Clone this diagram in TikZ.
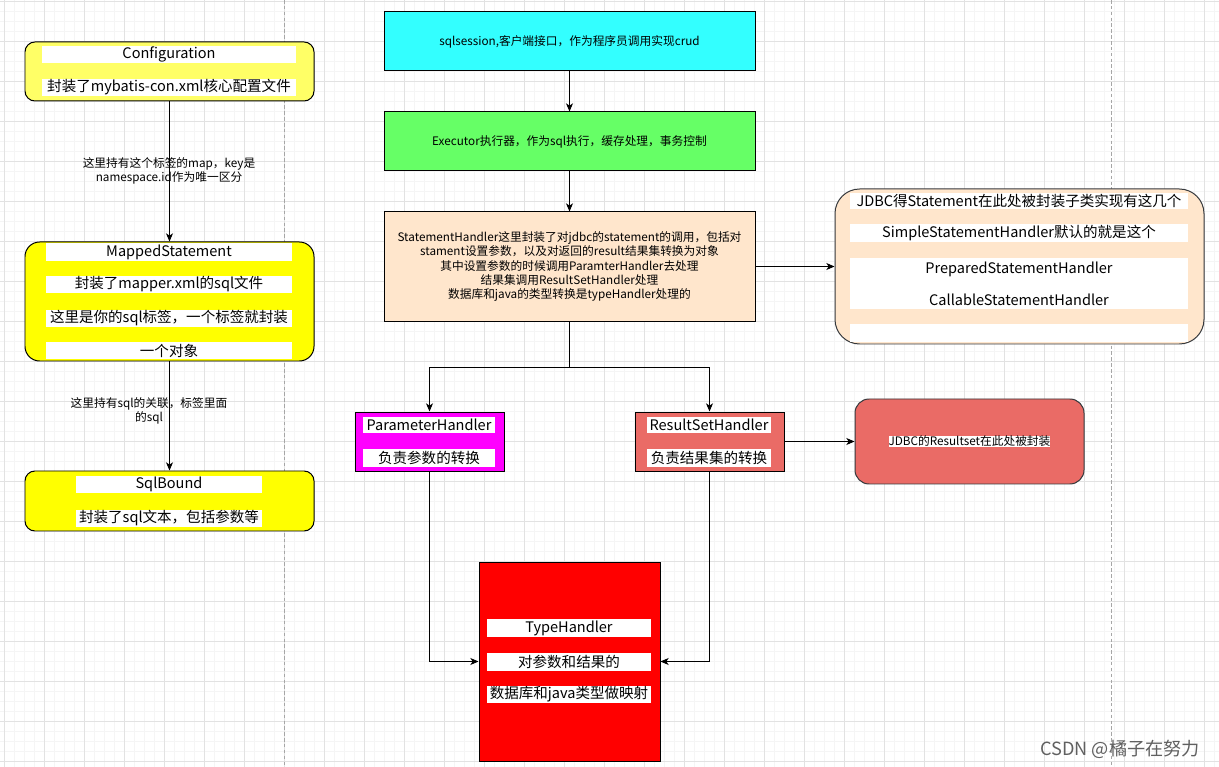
\documentclass[tikz,border=0pt]{standalone}
\usepackage{fontspec}
\setmainfont{Noto Sans CJK SC}
\usepackage{xcolor}
\usetikzlibrary{positioning,fit,arrows.meta}

\definecolor{cfgyellow}{HTML}{FFFF66}
\definecolor{msyellow}{HTML}{FFFF00}
\definecolor{sesscyan}{HTML}{33FFFF}
\definecolor{execgreen}{HTML}{66FF66}
\definecolor{stmtpeach}{HTML}{FFE6CC}
\definecolor{parmagenta}{HTML}{FF00FF}
\definecolor{rsred}{HTML}{EA6B66}
\definecolor{typered}{HTML}{FF0000}
\definecolor{gridmajor}{HTML}{E2E2E2}
\definecolor{gridminor}{HTML}{F5F5F5}
\definecolor{darkline}{HTML}{36393D}

\newcommand{\boxfont}{\fontsize{12.4}{14}\selectfont}
\newcommand{\notefont}{\fontsize{10}{12}\selectfont}

\begin{document}
\begin{tikzpicture}[x=0.03cm,y=-0.03cm,
  box/.style={draw=black,line width=0.85pt,inner sep=0pt},
  band/.style={fill=white,inner sep=0pt},
  every label/.style={font=\boxfont,inner sep=0pt,align=center},
  note/.style={inner sep=0pt,font=\notefont,align=center},
  arr/.style={line width=0.85pt,-{Stealth[length=7pt,width=6pt,inset=2pt]}}]
\useasboundingbox (0,0) rectangle (1219,767);
\fill[white] (0,0) rectangle (1219,767);
% grid of the canvas
\foreach \gx in {14.5,24.5,...,1214.5} \draw[gridminor,line width=0.6pt] (\gx,0) -- (\gx,767);
\foreach \gy in {11.5,21.5,...,761.5} \draw[gridminor,line width=0.6pt] (0,\gy) -- (1219,\gy);
\foreach \gx in {4.5,44.5,...,1204.5} \draw[gridmajor,line width=0.6pt] (\gx,0) -- (\gx,767);
\foreach \gy in {1.5,41.5,...,761.5} \draw[gridmajor,line width=0.6pt] (0,\gy) -- (1219,\gy);
\draw[gray!70,line width=0.6pt,dash pattern=on 3pt off 2pt] (284.5,0) -- (284.5,767);
\draw[gray!70,line width=0.6pt,dash pattern=on 3pt off 2pt] (1111.5,0) -- (1111.5,767);

% left column
\node[box,fill=cfgyellow,rounded corners=8.5pt,fit={(25,42) (314,101)}] (cfg) {};
\node[band,fit={(42,46) (296,63)},label=center:Configuration] (cfgT) {};
\node[band,fit={(42,79) (296,96)},label=center:封装了mybatis-con.xml核心配置文件] (cfgD) {};

\node[box,fill=msyellow,rounded corners=12.5pt,fit={(25,242) (314,361)}] (ms) {};
\node[band,fit={(46,243) (292,261)},label=center:MappedStatement] (msT) {};
\node[band,fit={(46,276) (292,293)},label=center:封装了mapper.xml的sql文件] (msD1) {};
\node[band,fit={(46,310) (292,327)},label=center:{这里是你的sql标签，一个标签就封装}] (msD2) {};
\node[band,fit={(46,342) (292,359)},label=center:一个对象] (msD3) {};

\node[box,fill=msyellow,rounded corners=8.5pt,fit={(25,471) (314,531)}] (sb) {};
\node[band,fit={(76,476) (262,493)},label=center:SqlBound] (sbT) {};
\node[band,fit={(76,510) (262,527)},label=center:{封装了sql文本，包括参数等}] (sbD) {};

\draw[arr] (cfg) -- (ms);
\node[note] (cfgNote) at (169,171) {这里持有这个标签的map，key是\\namespace.id作为唯一区分};
\draw[arr] (ms) -- (sb);
\node[note] (msNote) at (149,411) {这里持有sql的关联，标签里面\\的sql};

% middle column
\node[box,fill=sesscyan,fit={(384,12) (755,71)}] (sess) {};
\node[note] at (sess) {sqlsession,客户端接口，作为程序员调用实现crud};
\node[box,fill=execgreen,fit={(384,112) (755,171)}] (exec) {};
\node[note] at (exec) {Executor执行器，作为sql执行，缓存处理，事务控制};
\node[box,fill=stmtpeach,fit={(384,212) (755,321)}] (stmt) {};
\node[note] at (stmt) {StatementHandler这里封装了对jdbc的statement的调用，包括对\\
  stament设置参数，以及对返回的result结果集转换为对象\\
  其中设置参数的时候调用ParamterHandler去处理\\
  结果集调用ResultSetHandler处理\\
  数据库和java的类型转换是typeHandler处理的};

\draw[arr] (sess) -- (exec);
\draw[arr] (exec) -- (stmt);

% statement implementations
\node[box,draw=darkline,fill=stmtpeach,rounded corners=21pt,fit={(835,189) (1204,344)}] (jdbc) {};
\node[band,fit={(850,193) (1188,209)},label=center:JDBC得Statement在此处被封装子类实现有这几个] (jdT) {};
\node[band,fit={(850,224) (1188,242)},label=center:SimpleStatementHandler默认的就是这个] (jdS) {};
\node[band,fit={(850,258) (1188,309)},label=center:{PreparedStatementHandler\\[13.3pt]CallableStatementHandler}] (jdPC) {};
\node[band,fit={(850,324) (1188,342)}] (jdE) {};
\draw[arr] (stmt.east) -- (jdbc.west);

% handlers
\path (stmt.south) ++(0,46) coordinate (fork);
\node[box,fill=parmagenta,fit={(355,412) (504,471)}] (param) {};
\node[band,fit={(363,417) (495,433)},label=center:ParameterHandler] (paT) {};
\node[band,fit={(363,449) (495,467)},label=center:负责参数的转换] (paD) {};
\node[box,fill=rsred,fit={(635,412) (784,471)}] (rset) {};
\node[band,fit={(647,417) (771,433)},label=center:ResultSetHandler] (rsT) {};
\node[band,fit={(647,449) (771,467)},label=center:负责结果集的转换] (rsD) {};
\draw[line width=0.85pt] (stmt.south) -- (fork);
\draw[arr] (fork) -| (param.north);
\draw[arr] (fork) -| (rset.north);

\node[box,draw=darkline,fill=rsred,rounded corners=12pt,fit={(855,399) (1084,484)}] (jrs) {};
\node[note,fill=white] at (jrs) {JDBC的Resultset在此处被封装};
\draw[arr] (rset.east) -- (jrs.west);

\node[box,fill=typered,fit={(479,562) (660,761)}] (typeh) {};
\node[band,fit={(487,619) (651,637)},label=center:TypeHandler] (thT) {};
\node[band,fit={(487,653) (651,671)},label=center:对参数和结果的] (thD1) {};
\node[band,fit={(487,686) (651,703)},label=center:数据库和java类型做映射] (thD2) {};
\draw[arr] (param.south) |- (typeh.west);
\draw[arr] (rset.south) |- (typeh.east);

\node[text=gray!75!black,font=\fontsize{15.5}{18}\selectfont,inner sep=0pt] (mark) at (1120,749) {CSDN @橘子在努力};
\end{tikzpicture}
\end{document}
